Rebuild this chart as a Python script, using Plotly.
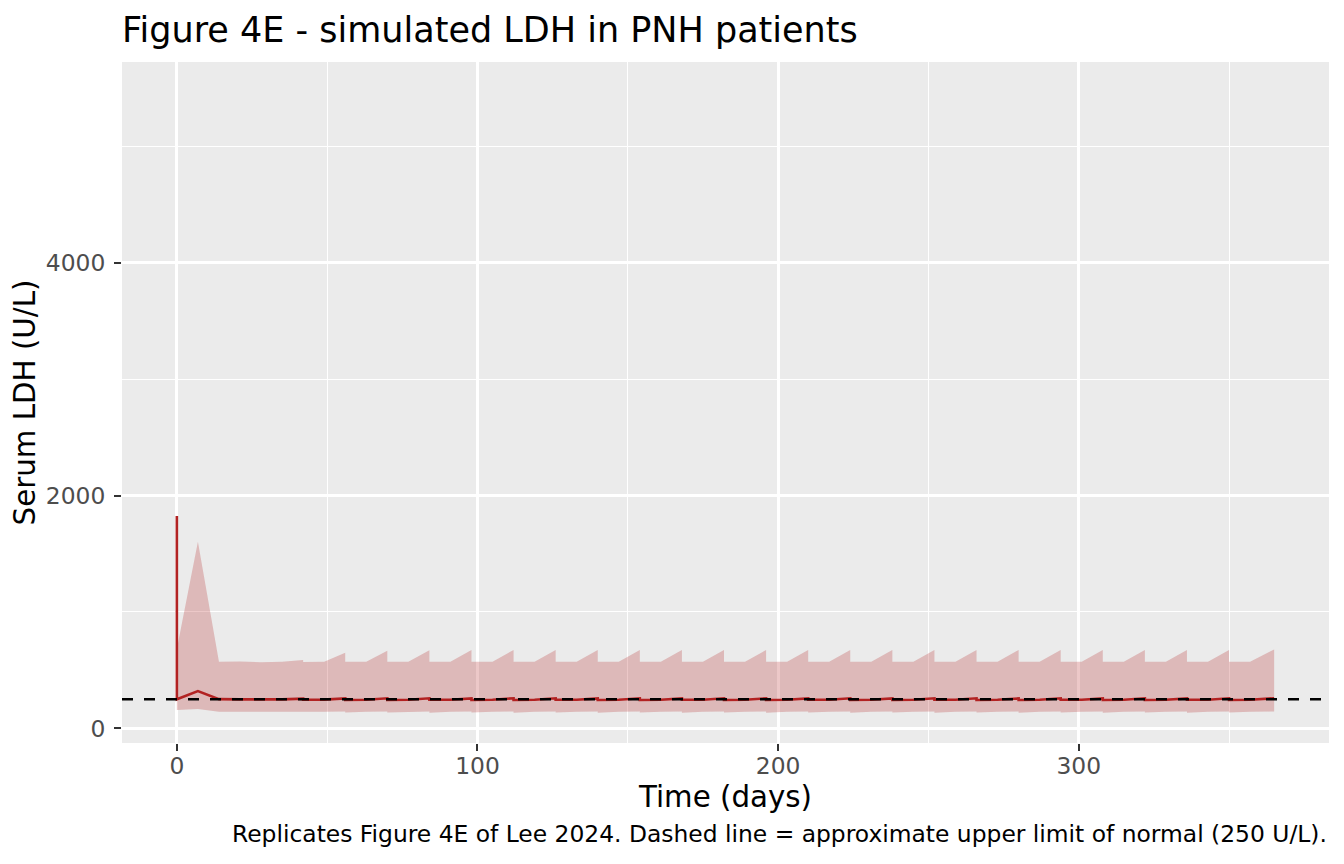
import plotly.graph_objects as go

# simulated LDH summary (median + band)
time_days = [
    0, 0, 7, 14, 21, 28, 35,
    42, 42, 49, 56, 56, 63, 70, 70, 77, 84, 84, 91,
    98, 98, 105, 112, 112, 119, 126, 126, 133, 140, 140, 147,
    154, 154, 161, 168, 168, 175, 182, 182, 189, 196, 196, 203,
    210, 210, 217, 224, 224, 231, 238, 238, 245, 252, 252, 259,
    266, 266, 273, 280, 280, 287, 294, 294, 301, 308, 308, 315,
    322, 322, 329, 336, 336, 343, 350, 350, 357, 365,
]
ldh_median = [
    1824, 250, 320, 251, 249, 248, 249,
    255, 246, 247, 257, 244, 246, 258, 244, 246, 258, 245, 246,
    257, 244, 246, 258, 244, 246, 258, 245, 246, 257, 244, 246,
    258, 244, 246, 257, 245, 246, 258, 244, 246, 258, 244, 246,
    257, 245, 246, 258, 244, 246, 257, 244, 246, 258, 245, 246,
    258, 244, 246, 257, 244, 246, 258, 245, 246, 257, 244, 246,
    258, 244, 246, 257, 245, 246, 258, 244, 246, 258,
]
ldh_lower = [
    157, 157, 166, 143, 142, 142, 143,
    144, 138, 142, 144, 135, 142, 145, 135, 142, 145, 134, 143,
    145, 135, 142, 145, 134, 143, 145, 135, 142, 145, 134, 143,
    145, 135, 142, 145, 134, 143, 145, 135, 142, 145, 134, 143,
    145, 135, 142, 145, 134, 143, 145, 135, 142, 145, 134, 143,
    145, 135, 142, 145, 134, 143, 145, 135, 142, 145, 134, 143,
    145, 135, 142, 145, 134, 143, 145, 135, 142, 145,
]
ldh_upper = [
    681, 681, 1603, 572, 575, 568, 572,
    588, 570, 571, 650, 571, 572, 667, 571, 572, 670, 572, 571,
    672, 571, 572, 673, 572, 571, 673, 571, 572, 673, 572, 571,
    673, 571, 572, 673, 572, 571, 673, 571, 572, 673, 572, 571,
    673, 571, 572, 673, 572, 571, 673, 571, 572, 673, 572, 571,
    673, 571, 572, 673, 572, 571, 673, 571, 572, 673, 572, 571,
    673, 571, 572, 673, 572, 571, 673, 571, 572, 678,
]
uln = 250  # approximate upper limit of normal

font_family = "DejaVu Sans"
red = "#B22222"

fig = go.Figure()

# band (lower edge, then upper edge filled to it)
fig.add_trace(go.Scatter(
    x=time_days, y=ldh_lower, mode="lines",
    line=dict(width=0), hoverinfo="skip", showlegend=False,
))
fig.add_trace(go.Scatter(
    x=time_days, y=ldh_upper, mode="lines", fill="tonexty",
    fillcolor="rgba(178,34,34,0.25)", line=dict(width=0),
    hoverinfo="skip", showlegend=False,
))
fig.add_trace(go.Scatter(
    x=time_days, y=ldh_median, mode="lines",
    line=dict(color=red, width=2.6), showlegend=False,
))

fig.add_shape(
    type="line", xref="paper", x0=0, x1=1, yref="y", y0=uln, y1=uln,
    line=dict(color="black", width=2.6, dash="11px,11px"), layer="above",
)

fig.add_annotation(
    text="Replicates Figure 4E of Lee 2024. Dashed line = approximate upper limit of normal (250 U/L).",
    xref="paper", x=1, xanchor="right", yref="paper", y=-0.1336, yanchor="middle",
    showarrow=False, font=dict(family=font_family, size=23.4, color="black"),
)

axis_common = dict(
    showgrid=True, gridcolor="white", gridwidth=2.7,
    minor=dict(showgrid=True, gridcolor="white", gridwidth=1.3),
    ticks="outside", ticklen=7, tickwidth=2.3, tickcolor="#333333",
    tickfont=dict(family=font_family, size=23.4, color="#4D4D4D"),
    zeroline=False, showline=False, automargin=False,
)

fig.update_xaxes(
    range=[-18.25, 383.25], tickvals=[0, 100, 200, 300],
    minor_tickvals=[50, 150, 250, 350], minor_ticks="",
    ticklabelstandoff=-5,
    title=dict(text="Time (days)", font=dict(family=font_family, size=29.3, color="black"), standoff=6),
    **axis_common,
)
fig.update_yaxes(
    range=[-126, 5724], tickvals=[0, 2000, 4000],
    minor_tickvals=[1000, 3000, 5000], minor_ticks="",
    ticklabelstandoff=4,
    title=dict(text="Serum LDH (U/L)", font=dict(family=font_family, size=29.3, color="black"), standoff=7),
    **axis_common,
)

# page body has an 8px margin, so the figure is 8px smaller and shifted
fig.update_layout(
    width=1336, height=856,
    margin=dict(l=114, r=15, t=54, b=121),
    paper_bgcolor="white", plot_bgcolor="#EBEBEB",
    title=dict(
        text="Figure 4E - simulated LDH in PNH patients",
        font=dict(family=font_family, size=35, color="black"),
        xref="paper", x=0, xanchor="left",
        yref="container", y=1 - 22 / 856, yanchor="middle",
    ),
    font=dict(family=font_family),
)

fig.write_html("out.html")
